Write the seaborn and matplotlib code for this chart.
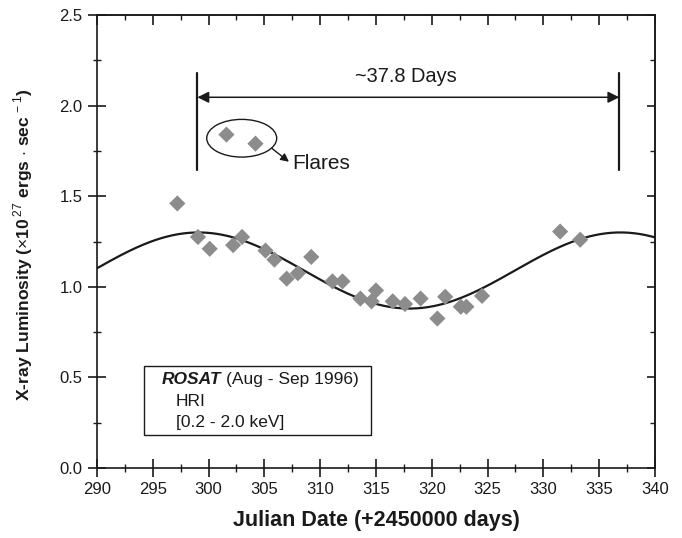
import numpy as np
import pandas as pd
import matplotlib
matplotlib.use("Agg")
import matplotlib.pyplot as plt
from matplotlib.patches import Ellipse, Rectangle
from matplotlib.ticker import MultipleLocator, FormatStrFormatter
import seaborn as sns

# observed luminosities (JD - 2450000, 1e27 erg/s)
jd = [297.2, 299.05, 300.1, 302.2, 303.0, 305.1, 305.9, 307.0, 308.0, 309.2,
      311.1, 312.0, 313.6, 314.6, 315.0, 316.5, 317.6, 319.0, 320.5, 321.2,
      322.6, 323.1, 324.5, 331.5, 333.3]
lum = [1.46, 1.275, 1.21, 1.23, 1.275, 1.20, 1.15, 1.045, 1.075, 1.165,
       1.03, 1.03, 0.935, 0.92, 0.98, 0.92, 0.905, 0.935, 0.825, 0.945,
       0.89, 0.89, 0.95, 1.305, 1.26]

# flare points
flare_jd = [301.6, 304.2]
flare_lum = [1.84, 1.79]

# sinusoidal fit
fit_period = 37.8
fit_mean = 1.09
fit_amp = 0.21
fit_peak = 299.1

obs = pd.DataFrame({"jd": jd + flare_jd, "lum": lum + flare_lum})
xs = np.linspace(290, 340, 400)
fit = pd.DataFrame({"jd": xs,
                    "lum": fit_mean + fit_amp * np.cos(2 * np.pi * (xs - fit_peak) / fit_period)})

INK = "#1a1a1a"

sns.set_style("ticks")
plt.rcParams["font.family"] = ["Liberation Sans", "DejaVu Sans"]
plt.rcParams["mathtext.fontset"] = "custom"
plt.rcParams["mathtext.rm"] = "Liberation Sans"
plt.rcParams["mathtext.bf"] = "Liberation Sans:bold"

fig = plt.figure(figsize=(6.82, 5.38), dpi=100)
ax = fig.add_axes([0.1422, 0.1301, 0.8182, 0.8420])

sns.lineplot(data=fit, x="jd", y="lum", ax=ax, color=INK, linewidth=1.6)
sns.scatterplot(data=obs, x="jd", y="lum", ax=ax, marker="D", s=68,
                color="#8c8c8c", edgecolor="none", zorder=3)

ax.set_xlim(290, 340)
ax.set_ylim(0, 2.5)
ax.xaxis.set_major_locator(MultipleLocator(5))
ax.xaxis.set_minor_locator(MultipleLocator(2.5))
ax.yaxis.set_major_locator(MultipleLocator(0.5))
ax.yaxis.set_minor_locator(MultipleLocator(0.25))
ax.yaxis.set_major_formatter(FormatStrFormatter("%.1f"))

for s in ax.spines.values():
    s.set_linewidth(1.2)
    s.set_color(INK)

ax.tick_params(which="major", direction="inout", length=12.5, width=1.2,
               labelsize=12, colors=INK)
ax.tick_params(axis="x", which="major", pad=3.5)
ax.tick_params(axis="y", which="major", pad=4)
ax.tick_params(which="minor", direction="inout", length=6, width=1.0, colors=INK)
# top / right: inward ticks
ax2 = ax.secondary_xaxis("top")
ax2.xaxis.set_major_locator(MultipleLocator(5))
ax2.xaxis.set_minor_locator(MultipleLocator(2.5))
ax2.tick_params(which="major", direction="in", length=7, width=1.2, labeltop=False, colors=INK)
ax2.tick_params(which="minor", direction="in", length=3.6, width=1.0, colors=INK)
ax2.spines["top"].set_linewidth(1.2)
ay2 = ax.secondary_yaxis("right")
ay2.yaxis.set_major_locator(MultipleLocator(0.5))
ay2.yaxis.set_minor_locator(MultipleLocator(0.25))
ay2.tick_params(which="major", direction="in", length=6, width=1.2, labelright=False, colors=INK)
ay2.tick_params(which="minor", direction="in", length=3.6, width=1.0, colors=INK)
ay2.spines["right"].set_linewidth(1.2)

ax.set_xlabel("Julian Date (+2450000 days)", fontsize=15.5, fontweight="bold", color=INK)
ax.xaxis.label.set_va("center")
ax.xaxis.set_label_coords(0.5, -0.115)
ax.set_ylabel(r"X-ray Luminosity ($\times$10$^{\,27}$ ergs $\cdot$ sec$^{\,-1}$)",
              fontsize=12.6, fontweight="bold", color=INK)
ax.yaxis.label.set_va("center")
ax.yaxis.set_label_coords(-0.133, 0.494)

# period marker
ax.plot([299.0, 299.0], [1.645, 2.18], color=INK, lw=1.6)
ax.plot([336.8, 336.8], [1.645, 2.18], color=INK, lw=1.6)
ax.annotate("", xy=(299.0, 2.046), xytext=(336.8, 2.046),
            arrowprops=dict(arrowstyle="<|-|>", color=INK, lw=1.1,
                            mutation_scale=17, shrinkA=0, shrinkB=0))
ax.text(317.7, 2.163, "~37.8 Days", fontsize=14.4, ha="center", va="center", color=INK)

# flares
ax.add_patch(Ellipse((302.97, 1.82), 6.27, 0.208, fill=False, lw=1.0, ec=INK))
ax.annotate("", xy=(307.2, 1.69), xytext=(305.65, 1.765),
            arrowprops=dict(arrowstyle="-|>", color=INK, lw=1.0,
                            mutation_scale=12, shrinkA=0, shrinkB=0))
ax.text(307.5, 1.678, "Flares", fontsize=15, ha="left", va="center", color=INK)

# instrument box
ax.add_patch(Rectangle((294.2, 0.182), 20.35, 0.381, fill=False, lw=1.0, ec=INK, zorder=4))
ax.text(295.8, 0.486, "ROSAT", fontsize=12.5, fontweight="bold", style="italic",
        ha="left", va="center", color=INK)
ax.text(301.55, 0.486, "(Aug - Sep 1996)", fontsize=12.5, ha="left", va="center", color=INK)
ax.text(297.05, 0.368, "HRI", fontsize=12.5, ha="left", va="center", color=INK)
ax.text(297.05, 0.252, "[0.2 - 2.0 keV]", fontsize=12.5, ha="left", va="center", color=INK)

fig.savefig("out.png", dpi=100)
